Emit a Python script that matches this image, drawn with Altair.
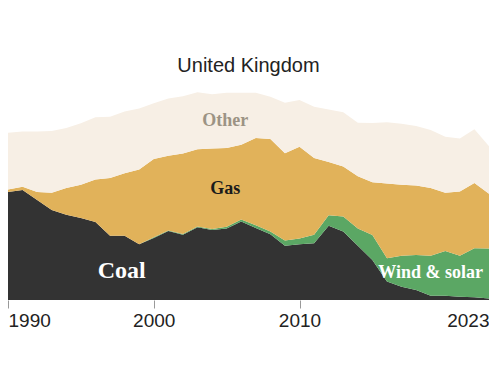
import altair as alt
import pandas as pd

years = list(range(1990, 2024))
coal = [205, 209, 190, 171, 162, 156, 148, 122, 122, 106,
        118, 131, 124, 138, 133, 136, 149, 137, 125, 103,
        106, 108, 141, 130, 103, 76, 35, 25, 19, 8,
        8, 6, 5, 3]
wind_solar = [0, 0, 0, 0, 0, 0, 0, 0, 0, 0,
              1, 1, 1.3, 1.5, 2, 3, 4, 5, 5, 10,
              11, 16, 20, 28.5, 33, 47.5, 44.5, 59, 66.5, 76,
              85, 78, 93.5, 95]
gas = [5, 6, 15, 33, 51, 63, 81, 110, 119, 142,
       149, 142, 153, 147, 153, 150, 142, 166, 176, 166,
       174, 146, 101, 95, 99, 100, 142, 135, 132, 129,
       111, 122, 124, 104]
other = [108, 105, 115, 117, 114, 117, 118, 116, 117, 116,
         106, 109, 109, 108, 103, 105, 99, 86, 80, 96,
         89, 97, 100, 103, 102, 113, 116, 116, 113, 110,
         106, 101, 102, 90]

sources = ["Coal", "Wind & solar", "Gas", "Other"]
colors = ["#333333", "#5ba764", "#e1b25a", "#f7efe5"]
tick_years = [1990, 2000, 2010, 2023]

label_text = ["Coal", "Gas", "Other", "Wind & solar"]
label_year = [1997.8, 2004.9, 2004.9, 2019.0]
label_value = [55, 211, 341, 51]
label_color = ["#ffffff", "#1a1a1a", "#9c9384", "#ffffff"]
label_size = [24, 18, 18, 18]

rows = []
for i, y in enumerate(years):
    for k, (s, series) in enumerate(zip(sources, [coal, wind_solar, gas, other])):
        rows.append({"year": y, "source": s, "value": series[i], "ord": k})
df = pd.DataFrame(rows)

labels = pd.DataFrame({"label": label_text, "year": label_year, "value": label_value,
                       "tc": label_color, "fs": label_size})

xscale = alt.Scale(domain=[1990, 2023], nice=False, zero=False)
yscale = alt.Scale(domain=[0, 399], nice=False)

areas = alt.Chart(df).mark_area(interpolate="linear").encode(
    x=alt.X("year:Q", scale=xscale,
            axis=alt.Axis(values=tick_years, format="d", labelFlush=True, grid=False,
                          domain=False, ticks=True, tickSize=8, tickColor="#999999",
                          tickWidth=1, labelFontSize=19, labelFont="Liberation Sans",
                          labelColor="#222222", labelPadding=3, title=None)),
    y=alt.Y("value:Q", stack="zero", scale=yscale, axis=None),
    color=alt.Color("source:N", scale=alt.Scale(domain=sources, range=colors), legend=None),
    order=alt.Order("ord:Q", sort="ascending"),
)

texts = alt.Chart(labels).mark_text(font="Liberation Serif", fontWeight="bold",
                                    align="center", baseline="middle").encode(
    x=alt.X("year:Q", scale=xscale),
    y=alt.Y("value:Q", scale=yscale),
    text="label:N",
    color=alt.Color("tc:N", scale=None),
    size=alt.Size("fs:Q", scale=None),
)

chart = alt.layer(areas, texts).properties(
    width=481, height=210,
    title=alt.TitleParams("United Kingdom", fontSize=20, font="Liberation Sans",
                          fontWeight="normal", color="#222222", anchor="middle", offset=14),
    autosize=alt.AutoSizeParams(type="none"),
    padding={"left": 0, "top": 82, "right": 0, "bottom": 60},
).configure_view(stroke=None)

chart.save("out.html", embed_options={"renderer": "svg", "actions": False})
